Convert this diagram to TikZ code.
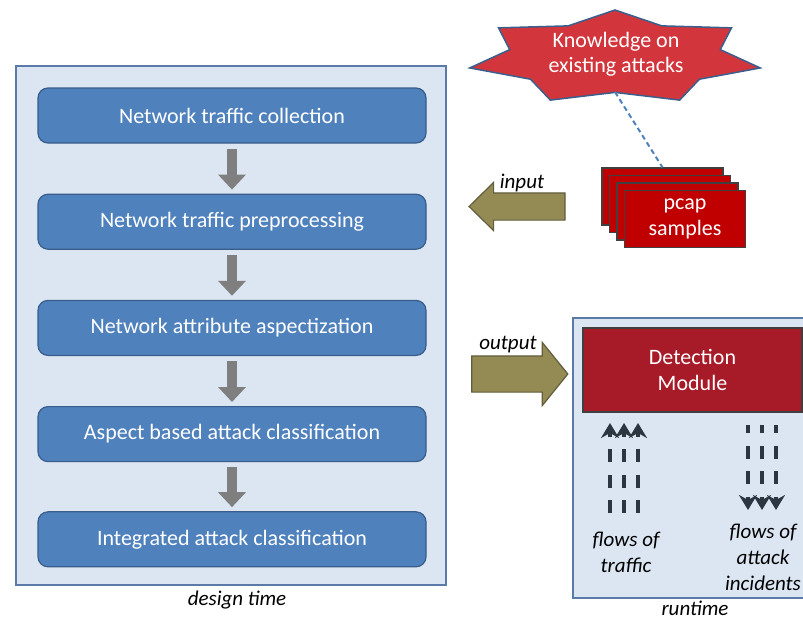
\documentclass[tikz,border=0pt]{standalone}
\usepackage{fontspec}
\setmainfont{Carlito}
\usetikzlibrary{arrows.meta,shapes.arrows,positioning}

\definecolor{panelfill}{HTML}{DCE6F2}
\definecolor{panelline}{HTML}{5A7BA8}
\definecolor{stepfill}{HTML}{4F81BD}
\definecolor{stepline}{HTML}{385D8A}
\definecolor{stepgray}{HTML}{7F7F7F}
\definecolor{starred}{HTML}{D2363C}
\definecolor{starline}{HTML}{3A5F8C}
\definecolor{pcapred}{HTML}{C00000}
\definecolor{darkline}{HTML}{404040}
\definecolor{detred}{HTML}{A71A28}
\definecolor{olive}{HTML}{948A54}
\definecolor{oliveline}{HTML}{625D3C}
\definecolor{flowcol}{HTML}{2B3640}

\tikzset{
  panel/.style={draw=panelline,fill=panelfill,line width=1.5pt},
  stepbox/.style={draw=stepline,fill=stepfill,rounded corners=10pt,line width=1.2pt,
    minimum width=388pt,minimum height=55pt,text=white,font=\fontsize{22}{26}\selectfont},
  steparrow/.style={draw=stepgray,line width=10pt,-{Triangle[width=27pt,length=15pt]},
    shorten <=5pt,shorten >=4pt},
  bigarrow/.style={single arrow,draw=oliveline,fill=olive,line width=1.2pt,inner xsep=0pt},
  lbl/.style={font=\fontsize{21}{26}\selectfont\itshape,text=black,align=center},
  whitetxt/.style={text=white,font=\fontsize{22}{25.5}\selectfont,align=center},
  pcap/.style={draw=darkline,fill=pcapred,line width=1.2pt,minimum width=121pt,minimum height=57pt},
  flow/.style={draw=flowcol,line width=3.2pt,dash pattern=on 13pt off 12.5pt,
    -{Stealth[width=18pt,length=15pt,inset=5pt]}}
}

\begin{document}
\begin{tikzpicture}[x=1pt,y=-1pt]
  \useasboundingbox (0,0) rectangle (803,619);
  \clip (0,0) rectangle (803,619);

  % design time
  \draw[panel] (16,66) rectangle (446,585);
  \node[stepbox] (s1) at (232,115.5) {Network traffic collection};
  \node[stepbox,below=50pt of s1] (s2) {Network traffic preprocessing};
  \node[stepbox,below=50pt of s2] (s3) {Network attribute aspectization};
  \node[stepbox,below=50pt of s3] (s4) {Aspect based attack classification};
  \node[stepbox,below=49pt of s4] (s5) {Integrated attack classification};
  \foreach \a/\b in {s1/s2,s2/s3,s3/s4,s4/s5}
    \draw[steparrow] (\a) -- (\b);
  \node[lbl] (dtime) at (237,600) {design time};

  % knowledge star
  \begin{scope}[shift={(615,57.4)}]
    \draw[fill=starred,draw=starline,line width=1.5pt,line join=miter]
      (-90:149 and 47.4)
      \foreach \i in {0,...,6} { -- ({-90+(\i+0.5)*360/7}:108 and 35) -- ({-90+(\i+1)*360/7}:149 and 47.4) }
      -- cycle;
  \end{scope}
  \node[whitetxt] (know) at (616,54) {Knowledge on\\existing attacks};
  \coordinate (kb) at (615,92);

  % pcap samples
  \foreach \i in {1,2,3}
    \node[pcap] (p\i) at ({655+7.5*\i},{189+7.5*\i}) {};
  \node[pcap,whitetxt] (p4) at (685,219) {pcap\\samples};
  \draw[draw=stepfill,line width=2pt,dash pattern=on 5pt off 3.5pt] (kb) -- (p1.north);

  % input / output
  \node[bigarrow,inner ysep=13pt,minimum height=96pt,minimum width=47pt,single arrow head extend=10.5pt,
    single arrow tip angle=89,shape border rotate=180] (inarr) at (524,206.5) {};
  \node[lbl] (inlbl) at (522,183) {input};
  \node[bigarrow,inner ysep=17.5pt,minimum height=96pt,minimum width=62pt,single arrow head extend=13.5pt,
    single arrow tip angle=102] (outarr) at (512.5,374) {};
  \node[lbl] (outlbl) at (508,345) {output};

  % runtime
  \draw[panel] (573,318) rectangle (815,598);
  \node[draw=darkline,fill=detred,line width=1.2pt,minimum width=219pt,minimum height=84pt,
    whitetxt] (det) at (692.5,370) {Detection\\Module};
  \foreach \x in {610,624,638}
    \draw[flow] (\x,513) -- (\x,423);
  \foreach \x in {748,762,776}
    \draw[flow,dash phase=5pt] (\x,425) -- (\x,510);
  \node[lbl] (ftraffic) at (626,552) {flows of\\traffic};
  \node[lbl] (fattack) at (763,557) {flows of\\attack\\incidents};
  \node[lbl] (rtime) at (695,608) {runtime};
\end{tikzpicture}
\end{document}
